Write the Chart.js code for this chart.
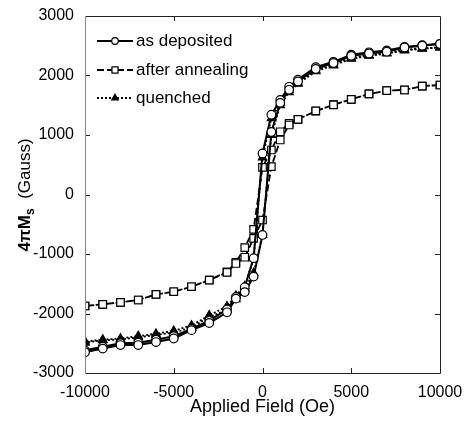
<!DOCTYPE html>
<html>
<head>
<meta charset="utf-8">
<script src="https://cdn.jsdelivr.net/npm/chart.js@4.4.1/dist/chart.umd.min.js"></script>
<style>
  html, body { margin: 0; padding: 0; background: #fff; }
  #wrap { width: 466px; height: 424px; }
</style>
</head>
<body>
<div id="wrap"><canvas id="loopChart" width="466" height="424"></canvas></div>
<script>
// applied field (Oe), descending branch then ascending branch
const fieldDown = [10000, 9000, 8000, 7000, 6000, 5000, 4000, 3000, 2000, 1500, 1000, 500, 0,
  -500, -1000, -1500, -2000, -3000, -4000, -5000, -6000, -7000, -8000, -9000, -10000];
const fieldUp = [-10000, -9000, -8000, -7000, -6000, -5000, -4000, -3000, -2000, -1500, -1000, -500, 0,
  500, 1000, 1500, 2000, 3000, 4000, 5000, 6000, 7000, 8000, 9000, 10000];

// 4piMs (Gauss)
const asDepositedDown = [2530, 2510, 2480, 2420, 2390, 2350, 2230, 2140, 1930, 1810, 1590, 1340, 690,
  -1070, -1560, -1720, -1930, -2120, -2260, -2380, -2440, -2490, -2500, -2560, -2620];
const asDepositedUp = [-2650, -2590, -2530, -2530, -2480, -2420, -2280, -2160, -1980, -1750, -1640, -1380, -680,
  1050, 1540, 1760, 1900, 2110, 2210, 2330, 2370, 2400, 2470, 2500, 2530];

const annealDown = [1840, 1820, 1760, 1745, 1690, 1600, 1510, 1400, 1264, 1197, 1055, 748, 457,
  -585, -894, -1140, -1300, -1437, -1550, -1634, -1677, -1773, -1812, -1845, -1874];
const annealUp = [-1874, -1845, -1812, -1773, -1680, -1634, -1550, -1440, -1310, -1160, -1055, -736, -429,
  467, 916, 1168, 1264, 1405, 1505, 1600, 1690, 1745, 1756, 1823, 1840];

const quenchedDown = [2470, 2460, 2430, 2380, 2340, 2300, 2190, 2090, 1880, 1760, 1540, 1280, 620,
  -1070, -1540, -1700, -1880, -2030, -2200, -2290, -2340, -2380, -2420, -2440, -2470];
const quenchedUp = [-2490, -2450, -2440, -2400, -2360, -2320, -2240, -2060, -1940, -1760, -1580, -1320, -680,
  1000, 1500, 1720, 1860, 2070, 2170, 2280, 2330, 2370, 2420, 2450, 2470];

const seriesNames = ["as deposited", "after annealing", "quenched"];
const xTicks = [-10000, -5000, 0, 5000, 10000];
const yTicks = [-3000, -2000, -1000, 0, 1000, 2000, 3000];

const FONT = "'Liberation Sans', Arial, sans-serif";

function loop(down, up) {
  let pts = down.map((m, i) => ({ x: fieldDown[i], y: m }));
  return pts.concat(up.map((m, i) => ({ x: fieldUp[i], y: m })));
}

const styles = [
  { pointStyle: "circle", radius: 4.3, bg: "#fff", dash: [], width: 2 },
  { pointStyle: "rect", radius: 5.3, bg: "#fff", dash: [7, 3], width: 1.8 },
  { pointStyle: "triangle", radius: 4.8, bg: "#000", dash: [2, 2], width: 1.8 }
];

// inward ticks and box frame
const frameTicks = {
  id: "frameTicks",
  afterDatasetsDraw(chart) {
    const { ctx, chartArea: a, scales } = chart;
    ctx.save();
    ctx.lineWidth = 1;
    ctx.strokeStyle = "#222";
    ctx.beginPath();
    xTicks.slice(1, -1).forEach((v) => {
      let px = Math.round(scales.x.getPixelForValue(v)) + 0.5;
      ctx.moveTo(px, a.bottom); ctx.lineTo(px, a.bottom - 5);
      ctx.moveTo(px, a.top); ctx.lineTo(px, a.top + 5);
    });
    yTicks.slice(1, -1).forEach((v) => {
      let py = Math.round(scales.y.getPixelForValue(v)) + 0.5;
      ctx.moveTo(a.left, py); ctx.lineTo(a.left + 5, py);
      ctx.moveTo(a.right, py); ctx.lineTo(a.right - 5, py);
    });
    ctx.stroke();
    let l = Math.round(a.left) + 0.5, r = Math.round(a.right) + 0.5;
    let t = Math.round(a.top) + 0.5, b = Math.round(a.bottom) + 0.5;
    ctx.beginPath();
    ctx.moveTo(l, t); ctx.lineTo(r, t); ctx.lineTo(r, b); ctx.lineTo(l, b);
    ctx.stroke();
    ctx.strokeStyle = "#888";
    ctx.beginPath();
    ctx.moveTo(l, t); ctx.lineTo(l, b);
    ctx.stroke();
    ctx.restore();
  }
};

// legend drawn inside the plot, line sample with marker in the middle
const boxLegend = {
  id: "boxLegend",
  afterDraw(chart) {
    const ctx = chart.ctx;
    const rows = [41, 70, 98];
    ctx.save();
    seriesNames.forEach((name, i) => {
      let s = styles[i];
      let y = rows[i];
      ctx.strokeStyle = "#000";
      ctx.lineWidth = s.width;
      ctx.setLineDash(s.dash);
      ctx.beginPath();
      ctx.moveTo(97, y); ctx.lineTo(133, y);
      ctx.stroke();
      ctx.setLineDash([]);
      ctx.fillStyle = s.bg;
      ctx.lineWidth = 1.2;
      Chart.helpers.drawPoint(ctx, { pointStyle: s.pointStyle, radius: s.radius - 1, borderWidth: 1.2 }, 115, y);
      ctx.fillStyle = "#000";
      ctx.font = "17px " + FONT;
      ctx.textBaseline = "middle";
      ctx.textAlign = "left";
      ctx.fillText(name, 136, y);
    });
    ctx.restore();
  }
};

// y title with subscript s
const yTitle = {
  id: "yTitle",
  afterDraw(chart) {
    const ctx = chart.ctx;
    ctx.save();
    ctx.translate(25, 195);
    ctx.rotate(-Math.PI / 2);
    ctx.fillStyle = "#000";
    ctx.textBaseline = "middle";
    ctx.textAlign = "left";
    let big = "bold 17px " + FONT, small = "bold 12px " + FONT, norm = "17px " + FONT;
    ctx.font = big; let w1 = ctx.measureText("4\u03C0M").width;
    ctx.font = small; let w2 = ctx.measureText("s").width;
    ctx.font = norm; let w3 = ctx.measureText("  (Gauss)").width;
    let x = -(w1 + w2 + w3) / 2;
    ctx.font = big; ctx.fillText("4\u03C0M", x, 0);
    ctx.font = small; ctx.fillText("s", x + w1, 6);
    ctx.font = norm; ctx.fillText("  (Gauss)", x + w1 + w2, 0);
    ctx.restore();
  }
};

const datasets = [
  loop(asDepositedDown, asDepositedUp),
  loop(annealDown, annealUp),
  loop(quenchedDown, quenchedUp)
].map((pts, i) => ({
  label: seriesNames[i],
  data: pts,
  showLine: true,
  borderColor: "#000",
  borderWidth: styles[i].width,
  borderDash: styles[i].dash,
  pointStyle: styles[i].pointStyle,
  pointRadius: styles[i].radius,
  pointBackgroundColor: styles[i].bg,
  pointBorderColor: "#000",
  pointBorderWidth: 1.2,
  tension: 0
}));

new Chart(document.getElementById("loopChart"), {
  type: "scatter",
  data: { datasets: datasets },
  options: {
    responsive: false,
    animation: false,
    layout: { padding: { top: 16, right: 26, bottom: 0, left: 0 } },
    plugins: {
      legend: { display: false },
      tooltip: { enabled: false }
    },
    scales: {
      x: {
        type: "linear",
        min: -10000,
        max: 10000,
        afterBuildTicks: (s) => { s.ticks = xTicks.map((v) => ({ value: v })); },
        afterFit: (s) => {
          s.height = 51;
          s.paddingLeft = 0;
          s.paddingRight = 0;
        },
        grid: { display: false, drawTicks: false },
        border: { display: false },
        ticks: {
          color: "#000",
          padding: 10,
          maxRotation: 0,
          font: { family: FONT, size: 16 },
          callback: (v) => String(v)
        },
        title: {
          display: true,
          text: "Applied Field (Oe)",
          color: "#000",
          font: { family: FONT, size: 18 },
          padding: { top: 0, bottom: 6 }
        }
      },
      y: {
        type: "linear",
        min: -3000,
        max: 3000,
        afterBuildTicks: (s) => { s.ticks = yTicks.map((v) => ({ value: v })); },
        afterFit: (s) => {
          s.width = 85;
          s.paddingTop = 0;
          s.paddingBottom = 0;
        },
        grid: { display: false, drawTicks: false },
        border: { display: false },
        ticks: {
          color: "#000",
          padding: 11,
          font: { family: FONT, size: 16 },
          callback: (v) => String(v)
        }
      }
    }
  },
  plugins: [frameTicks, boxLegend, yTitle]
});
</script>
</body>
</html>
